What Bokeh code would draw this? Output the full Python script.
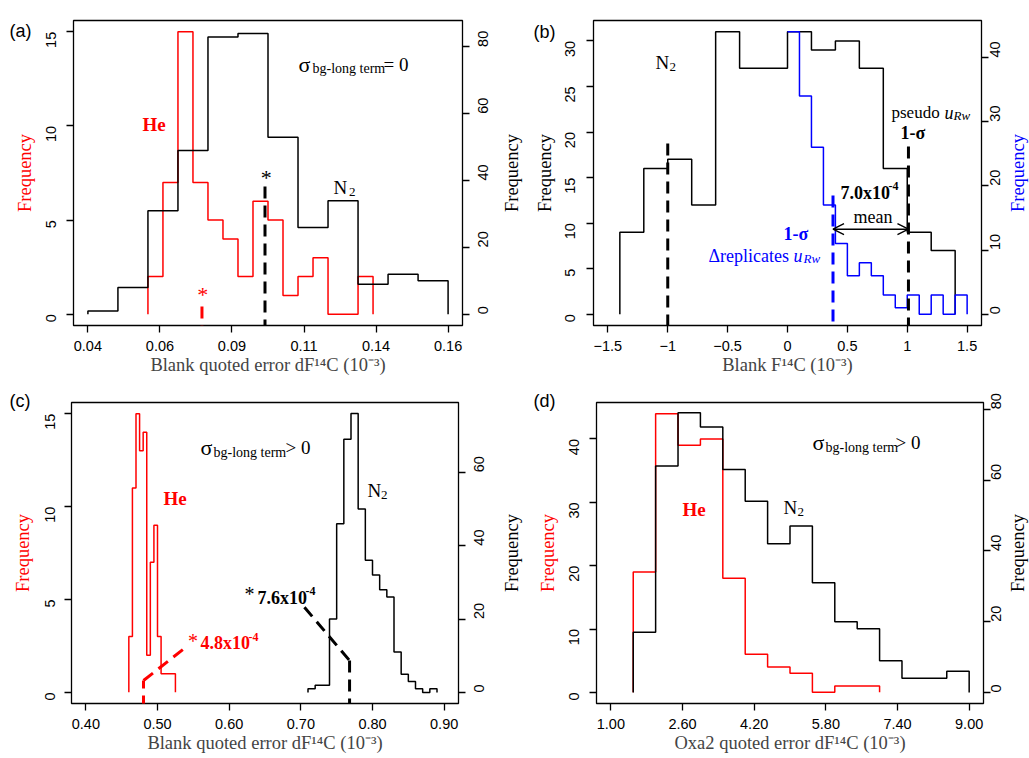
import math
from bokeh.plotting import figure
from bokeh.layouts import row, column
from bokeh.models import (Range1d, LinearAxis, FixedTicker, CustomJSTickFormatter,
                          NumeralTickFormatter, Label, Arrow, OpenHead)
from bokeh.embed import file_html
from bokeh.resources import INLINE

SERIF = "Liberation Serif"
SANS = "Liberation Sans"
RED = "#FF0000"
BLUE = "#0000FF"
BLACK = "#000000"

# ---------------- data ----------------
# (a) blank quoted error, sigma_bg-long term = 0
a_n2_edges = [0.04, 0.05, 0.06, 0.07, 0.08, 0.09, 0.10, 0.11, 0.12, 0.13, 0.14, 0.15, 0.16]
a_n2_counts = [1, 8, 31, 49, 83, 84, 53, 26, 34, 9, 12, 10]
a_he_edges = [0.060, 0.065, 0.070, 0.075, 0.080, 0.085, 0.090, 0.095, 0.100,
              0.105, 0.110, 0.115, 0.120, 0.125, 0.130, 0.135]
a_he_counts = [2, 7, 15, 7, 5, 4, 2, 6, 5, 1, 2, 3, 0, 0, 2]
a_he_mean = 0.078
a_n2_mean = 0.099
a_xticks = [0.04, 0.064, 0.088, 0.112, 0.136, 0.16]
a_yl_ticks = [0, 5, 10, 15]
a_yr_ticks = [0, 20, 40, 60, 80]

# (b) blank F14C, N2 and replicate differences
b_n2_edges = [-1.4, -1.2, -1.0, -0.8, -0.6, -0.4, -0.2, 0.0, 0.2, 0.4, 0.6, 0.8, 1.0, 1.2, 1.4]
b_n2_counts = [9, 16, 17, 12, 31, 27, 27, 31, 29, 30, 27, 16, 9, 7]
b_rep_edges = [0.0, 0.1, 0.2, 0.3, 0.4, 0.5, 0.6, 0.7, 0.8, 0.9, 1.0, 1.1, 1.2, 1.3, 1.4, 1.5]
b_rep_counts = [44, 34, 26, 17, 11, 6, 8, 6, 3, 1, 3, 0, 3, 0, 3]
b_n2_sigma = -1.0
b_rep_sigma = 0.38
b_pseudo_sigma = 1.01
b_xticks = [-1.5, -1.0, -0.5, 0.0, 0.5, 1.0, 1.5]
b_yl_ticks = [0, 5, 10, 15, 20, 25, 30]
b_yr_ticks = [0, 10, 20, 30, 40]

# (c) blank quoted error, sigma_bg-long term > 0
c_he_edges = [0.460, 0.465, 0.470, 0.475, 0.480, 0.485, 0.490, 0.495, 0.500,
              0.505, 0.510, 0.515, 0.520, 0.525]
c_he_counts = [3, 11, 15, 13, 14, 2, 7, 9, 3, 1, 1, 1, 1]
c_n2_edges = [0.71, 0.72, 0.73, 0.74, 0.75, 0.76, 0.77, 0.78, 0.79, 0.80,
              0.81, 0.82, 0.83, 0.84, 0.85, 0.86, 0.87, 0.88, 0.89]
c_n2_counts = [1, 2, 2, 20, 46, 69, 76, 50, 36, 32, 28, 26, 11, 5, 3, 1, 0, 1]
c_he_mean = 0.4805
c_n2_mean = 0.768
c_xticks = [0.40, 0.50, 0.60, 0.70, 0.80, 0.90]
c_yl_ticks = [0, 5, 10, 15]
c_yr_ticks = [0, 20, 40, 60]

# (d) Oxa2 quoted error
d_n2_edges = [1.5, 2.0, 2.5, 3.0, 3.5, 4.0, 4.5, 5.0, 5.5, 6.0, 6.5, 7.0, 7.5, 8.0, 8.5, 9.0]
d_n2_counts = [17, 64, 79, 75, 63, 54, 42, 47, 31, 20, 18, 9, 4, 4, 6]
d_he_edges = [1.5, 2.0, 2.5, 3.0, 3.5, 4.0, 4.5, 5.0, 5.5, 6.0, 6.5, 7.0]
d_he_counts = [19, 44, 39, 40, 18, 6, 4, 3, 0, 1, 1]
d_xticks = [1.0, 2.6, 4.2, 5.8, 7.4, 9.0]
d_yl_ticks = [0, 10, 20, 30, 40]
d_yr_ticks = [0, 20, 40, 60, 80]

XLAB_BLANK = "Blank quoted error dF\u00b9\u2074C (10\u207b\u00b3)"
XLAB_F14C = "Blank F\u00b9\u2074C (10\u207b\u00b3)"
XLAB_OXA = "Oxa2 quoted error dF\u00b9\u2074C (10\u207b\u00b3)"

# ---------------- panel geometry (page px; the page has no margin) ----------------
# ls/lls: left tick-label / axis-title standoff, rs: right tick-label standoff,
# rlab: baseline of the right-hand axis title
CFG = {
    "a": dict(w=528, h=382, bl=73, br=66, bt=20, bb=55, ls=15, lls=4, rs=14, rlab=511,
              xr=(0.0352, 0.1648), yl=(-0.6, 15.6), yr=(-3.36, 87.9),
              ref=(73, 462, 20, 327)),
    "b": dict(w=501, h=382, bl=65, br=48, bt=20, bb=57, ls=16, lls=3, rs=7, rlab=1017,
              xr=(-1.62, 1.62), yl=(-1.24, 32.24), yr=(-1.76, 45.76),
              ref=(593, 981, 20, 325)),
    "c": dict(w=528, h=376, bl=71, br=70, bt=20, bb=55, ls=14, lls=5, rs=14, rlab=511,
              xr=(0.38, 0.92), yl=(-0.6, 15.6), yr=(-3.0, 79.0),
              ref=(71, 458, 402, 703)),
    "d": dict(w=501, h=376, bl=68, br=46, bt=20, bb=55, ls=15, lls=4, rs=6, rlab=1017,
              xr=(0.68, 9.32), yl=(-1.76, 45.76), yr=(-3.1, 81.9),
              ref=(596, 983, 402, 703)),
}


def X(c, px):
    fl, fr, ft, fb = c["ref"]
    x0, x1 = c["xr"]
    return x0 + (px - fl) * (x1 - x0) / (fr - fl)


def Y(c, py):
    fl, fr, ft, fb = c["ref"]
    y0, y1 = c["yl"]
    return y1 - (py - ft) * (y1 - y0) / (fb - ft)


def make_fig(c, xticks, xfmt, ylt, yrt, xlabel, lcolor, rcolor):
    p = figure(width=c["w"], height=c["h"], x_range=Range1d(*c["xr"]),
               y_range=Range1d(*c["yl"]), output_backend="svg",
               toolbar_location=None, tools="",
               min_border_left=c["bl"], min_border_right=c["br"],
               min_border_top=c["bt"], min_border_bottom=c["bb"])
    p.extra_y_ranges = {"r": Range1d(*c["yr"])}
    p.add_layout(LinearAxis(y_range_name="r"), "right")
    p.xgrid.visible = False
    p.ygrid.visible = False
    p.outline_line_color = BLACK
    p.outline_line_width = 1.3
    p.outline_line_alpha = 1.0
    p.background_fill_color = "white"
    p.border_fill_color = "white"
    for ax in p.axis:
        ax.axis_line_color = None
        ax.major_tick_out = 7
        ax.major_tick_in = 0
        ax.major_tick_line_width = 1.3
        ax.major_tick_line_color = BLACK
        ax.minor_tick_line_color = None
        ax.major_label_text_font = SANS
        ax.major_label_text_font_size = "14.5px"
        ax.major_label_text_color = BLACK
        ax.axis_label_text_font = SERIF
        ax.axis_label_text_font_size = "18.5px"
        ax.axis_label_text_font_style = "normal"
    xa = p.below[0]
    xa.ticker = FixedTicker(ticks=xticks)
    xa.formatter = xfmt
    xa.axis_label = xlabel
    xa.major_label_standoff = 8
    xa.axis_label_standoff = 1
    la = p.left[0]
    la.ticker = FixedTicker(ticks=ylt)
    la.major_label_orientation = math.pi / 2
    la.major_label_standoff = c["ls"]
    la.axis_label = "Frequency"
    la.axis_label_text_color = lcolor
    la.axis_label_standoff = c["lls"]
    ra = p.right[0]
    ra.ticker = FixedTicker(ticks=yrt)
    ra.major_label_orientation = math.pi / 2
    ra.major_label_standoff = c["rs"]
    # right-hand axis title, reading bottom-to-top as in the original
    fl, fr, ft, fb = c["ref"]
    p.add_layout(Label(x=X(c, c["rlab"]), y=Y(c, (ft + fb) / 2), text="Frequency",
                       angle=math.pi / 2, text_font=SERIF, text_font_size="18.5px",
                       text_color=rcolor, text_align="center",
                       text_baseline="alphabetic"), "right")
    return p


def step_xy(edges, counts, rise=True):
    xs, ys = [], []
    if rise:
        xs.append(edges[0])
        ys.append(0)
    for i, v in enumerate(counts):
        xs += [edges[i], edges[i + 1]]
        ys += [v, v]
    xs.append(edges[-1])
    ys.append(0)
    return xs, ys


def hist(p, edges, counts, color, rng="default", rise=True):
    xs, ys = step_xy(edges, counts, rise)
    p.line(xs, ys, line_color=color, line_width=1.5, y_range_name=rng)


def dash(p, x0, y0, x1, y1, color):
    p.add_layout(Arrow(x_start=x0, y_start=y0, x_end=x1, y_end=y1, start=None, end=None,
                       line_color=color, line_width=3, line_dash="12 7"))


def txt(p, c, px, py, text, size, color=BLACK, style="normal", font=SERIF, align="left",
        place="center"):
    lab = Label(x=X(c, px), y=Y(c, py), text=text, text_font=font,
                text_font_size=f"{size}px", text_font_style=style,
                text_color=color, text_align=align, text_baseline="alphabetic")
    if place == "center":
        p.add_layout(lab)
    else:
        p.add_layout(lab, place)


fmt2 = NumeralTickFormatter(format="0.00")
fmt_plain = CustomJSTickFormatter(code="return tick.toString().replace('-', '\\u2212');")

# ---------------- (a) ----------------
ca = CFG["a"]
pa = make_fig(ca, a_xticks, fmt2, a_yl_ticks, a_yr_ticks, XLAB_BLANK, RED, BLACK)
hist(pa, a_he_edges, a_he_counts, RED)
hist(pa, a_n2_edges, a_n2_counts, BLACK, "r")
dash(pa, a_he_mean, Y(ca, 308), a_he_mean, Y(ca, 341), RED)
dash(pa, a_n2_mean, Y(ca, 187), a_n2_mean, Y(ca, 344), BLACK)
txt(pa, ca, 9, 31, "(a)", 18, font=SANS, place="above")
txt(pa, ca, 298, 64, "\u03c3", 22)
txt(pa, ca, 312, 68, "bg-long term", 14)
txt(pa, ca, 383, 64, "= 0", 19)
txt(pa, ca, 142, 125, "He", 19, RED, "bold")
txt(pa, ca, 333, 188, "N", 19)
txt(pa, ca, 348.5, 193, "2", 13)
txt(pa, ca, 265.7, 178, "*", 22, align="center")
txt(pa, ca, 202.3, 296, "*", 22, RED, align="center")

# ---------------- (b) ----------------
cb = CFG["b"]
pb = make_fig(cb, b_xticks, fmt_plain, b_yl_ticks, b_yr_ticks, XLAB_F14C, BLACK, BLUE)
hist(pb, b_n2_edges, b_n2_counts, BLACK)
hist(pb, b_rep_edges, b_rep_counts, BLUE, "r", rise=False)
dash(pb, b_n2_sigma, Y(cb, 143), b_n2_sigma, Y(cb, 343), BLACK)
dash(pb, b_rep_sigma, Y(cb, 195), b_rep_sigma, Y(cb, 343), BLUE)
dash(pb, b_pseudo_sigma, Y(cb, 146), b_pseudo_sigma, Y(cb, 343), BLACK)
arr_y = Y(cb, 228.7)
pb.add_layout(Arrow(x_start=b_rep_sigma, y_start=arr_y, x_end=b_pseudo_sigma, y_end=arr_y,
                    start=OpenHead(size=11, line_width=1.4, line_color=BLACK),
                    end=OpenHead(size=11, line_width=1.4, line_color=BLACK),
                    line_width=1.4, line_color=BLACK))
txt(pb, cb, 533, 31, "(b)", 18, font=SANS, place="above")
txt(pb, cb, 655, 62, "N", 19)
txt(pb, cb, 669, 66, "2", 13)
txt(pb, cb, 891, 112, "pseudo", 17)
txt(pb, cb, 944, 112, "u", 18, style="italic")
txt(pb, cb, 953, 115, "Rw", 13, style="italic")
txt(pb, cb, 900, 132, "1-\u03c3", 18, style="bold")
txt(pb, cb, 840, 192, "7.0x10", 18, style="bold")
txt(pb, cb, 888, 185, "-4", 12, style="bold")
txt(pb, cb, 853, 216, "mean", 18)
txt(pb, cb, 783, 233, "1-\u03c3", 18, BLUE, "bold")
txt(pb, cb, 708, 255, "\u0394replicates", 18, BLUE)
txt(pb, cb, 793, 255, "u", 18, BLUE, "italic")
txt(pb, cb, 803, 258, "Rw", 13, BLUE, "italic")

# ---------------- (c) ----------------
cc = CFG["c"]
pc = make_fig(cc, c_xticks, fmt2, c_yl_ticks, c_yr_ticks, XLAB_BLANK, RED, BLACK)
hist(pc, c_he_edges, c_he_counts, RED)
hist(pc, c_n2_edges, c_n2_counts, BLACK, "r")
dash(pc, c_n2_mean - 0.063, Y(cc, 606.7), c_n2_mean, Y(cc, 660), BLACK)
dash(pc, c_n2_mean, Y(cc, 660), c_n2_mean, Y(cc, 712), BLACK)
dash(pc, c_he_mean, Y(cc, 707), c_he_mean, Y(cc, 680), RED)
dash(pc, c_he_mean, Y(cc, 680), c_he_mean + 0.059, Y(cc, 646.7), RED)
txt(pc, cc, 9, 400, "(c)", 18, font=SANS, place="above")
txt(pc, cc, 200, 447, "\u03c3", 22)
txt(pc, cc, 213, 452, "bg-long term", 14)
txt(pc, cc, 285, 447, "> 0", 19)
txt(pc, cc, 163, 498, "He", 19, RED, "bold")
txt(pc, cc, 367, 490, "N", 19)
txt(pc, cc, 380.5, 494, "2", 13)
txt(pc, cc, 249, 593.5, "*", 20, align="center")
txt(pc, cc, 257, 597, "7.6x10", 18, style="bold")
txt(pc, cc, 305, 590, "-4", 12, style="bold")
txt(pc, cc, 192.5, 640.5, "*", 20, RED, align="center")
txt(pc, cc, 200, 642, "4.8x10", 18, RED, "bold")
txt(pc, cc, 248, 636, "-4", 12, RED, "bold")

# ---------------- (d) ----------------
cd = CFG["d"]
pd_ = make_fig(cd, d_xticks, fmt2, d_yl_ticks, d_yr_ticks, XLAB_OXA, RED, BLACK)
hist(pd_, d_he_edges, d_he_counts, RED)
hist(pd_, d_n2_edges, d_n2_counts, BLACK, "r")
txt(pd_, cd, 533, 400, "(d)", 18, font=SANS, place="above")
txt(pd_, cd, 812, 442, "\u03c3", 22)
txt(pd_, cd, 825, 447, "bg-long term", 14)
txt(pd_, cd, 895, 442, "> 0", 19)
txt(pd_, cd, 682, 509, "He", 19, RED, "bold")
txt(pd_, cd, 783, 507, "N", 19)
txt(pd_, cd, 797, 511, "2", 13)

layout = column(row(pa, pb), row(pc, pd_))
open("out.html", "w").write(file_html(layout, INLINE))
